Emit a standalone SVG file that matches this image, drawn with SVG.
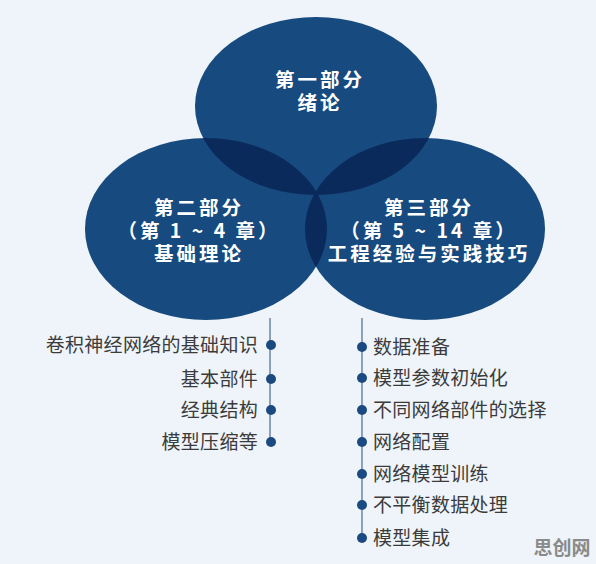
<svg xmlns="http://www.w3.org/2000/svg" width="596" height="564" viewBox="0 0 596 564">
<style>
.c{fill:#174a7e}
.o{fill:#0b2a5c}
.t{fill:#ffffff;font-family:"Noto Sans CJK SC","Noto Sans",sans-serif;font-weight:bold;font-size:19.5px;letter-spacing:3px;text-anchor:middle}
.l{fill:#3b3b3b;font-family:"Noto Sans CJK SC","Noto Sans",sans-serif;font-size:19px;letter-spacing:0.3px}
.d{fill:#1a4a80}
.ln{stroke:#4a6a90;stroke-width:1.2;fill:none}
</style>
<defs>
<clipPath id="cpTop"><ellipse cx="316" cy="106" rx="121" ry="89"/></clipPath>
<clipPath id="cpLeft"><ellipse cx="206" cy="229" rx="121" ry="91"/></clipPath>
</defs>
<rect width="596" height="564" fill="#eef4fa"/>
<g id="connectors">
<line class="ln" x1="270" y1="318" x2="270" y2="444"/>
<line class="ln" x1="362" y1="318" x2="362" y2="540"/>
</g>
<g id="node-top">
<ellipse class="c" cx="316" cy="106" rx="121" ry="89"/>
</g>
<g id="node-left">
<ellipse class="c" cx="206" cy="229" rx="121" ry="91"/>
</g>
<g id="node-right">
<ellipse class="c" cx="425" cy="229" rx="120" ry="91"/>
</g>
<g id="overlaps">
<ellipse class="o" cx="206" cy="229" rx="121" ry="91" clip-path="url(#cpTop)"/>
<ellipse class="o" cx="425" cy="229" rx="120" ry="91" clip-path="url(#cpTop)"/>
<ellipse class="o" cx="425" cy="229" rx="120" ry="91" clip-path="url(#cpLeft)"/>
</g>
<g id="labels">
<text class="t"><tspan x="320" y="87">第一部分</tspan><tspan x="320" y="110">绪论</tspan></text>
<text class="t"><tspan x="199" y="215">第二部分</tspan><tspan x="199" y="238">（第 1 ~ 4 章）</tspan><tspan x="199" y="261">基础理论</tspan></text>
<text class="t"><tspan x="429" y="215">第三部分</tspan><tspan x="429" y="238">（第 5 ~ 14 章）</tspan><tspan x="429" y="261">工程经验与实践技巧</tspan></text>
</g>
<g id="list-left" text-anchor="end">
<circle class="d" cx="271" cy="345" r="5"/>
<circle class="d" cx="271" cy="379" r="5"/>
<circle class="d" cx="271" cy="410" r="5"/>
<circle class="d" cx="271" cy="442" r="5"/>
<text class="l" x="258" y="352">卷积神经网络的基础知识</text>
<text class="l" x="258" y="386">基本部件</text>
<text class="l" x="258" y="417">经典结构</text>
<text class="l" x="258" y="449">模型压缩等</text>
</g>
<g id="list-right">
<circle class="d" cx="362" cy="347" r="5"/>
<circle class="d" cx="362" cy="378" r="5"/>
<circle class="d" cx="362" cy="410" r="5"/>
<circle class="d" cx="362" cy="442" r="5"/>
<circle class="d" cx="362" cy="474" r="5"/>
<circle class="d" cx="362" cy="505" r="5"/>
<circle class="d" cx="362" cy="538" r="5"/>
<text class="l" x="373" y="354">数据准备</text>
<text class="l" x="373" y="385">模型参数初始化</text>
<text class="l" x="373" y="417">不同网络部件的选择</text>
<text class="l" x="373" y="449">网络配置</text>
<text class="l" x="373" y="481">网络模型训练</text>
<text class="l" x="373" y="512">不平衡数据处理</text>
<text class="l" x="373" y="545">模型集成</text>
</g>
<text x="562" y="555" text-anchor="middle" fill="#8a8a8a" font-family="Noto Sans CJK SC, sans-serif" font-weight="bold" font-size="19">思创网</text>
</svg>
